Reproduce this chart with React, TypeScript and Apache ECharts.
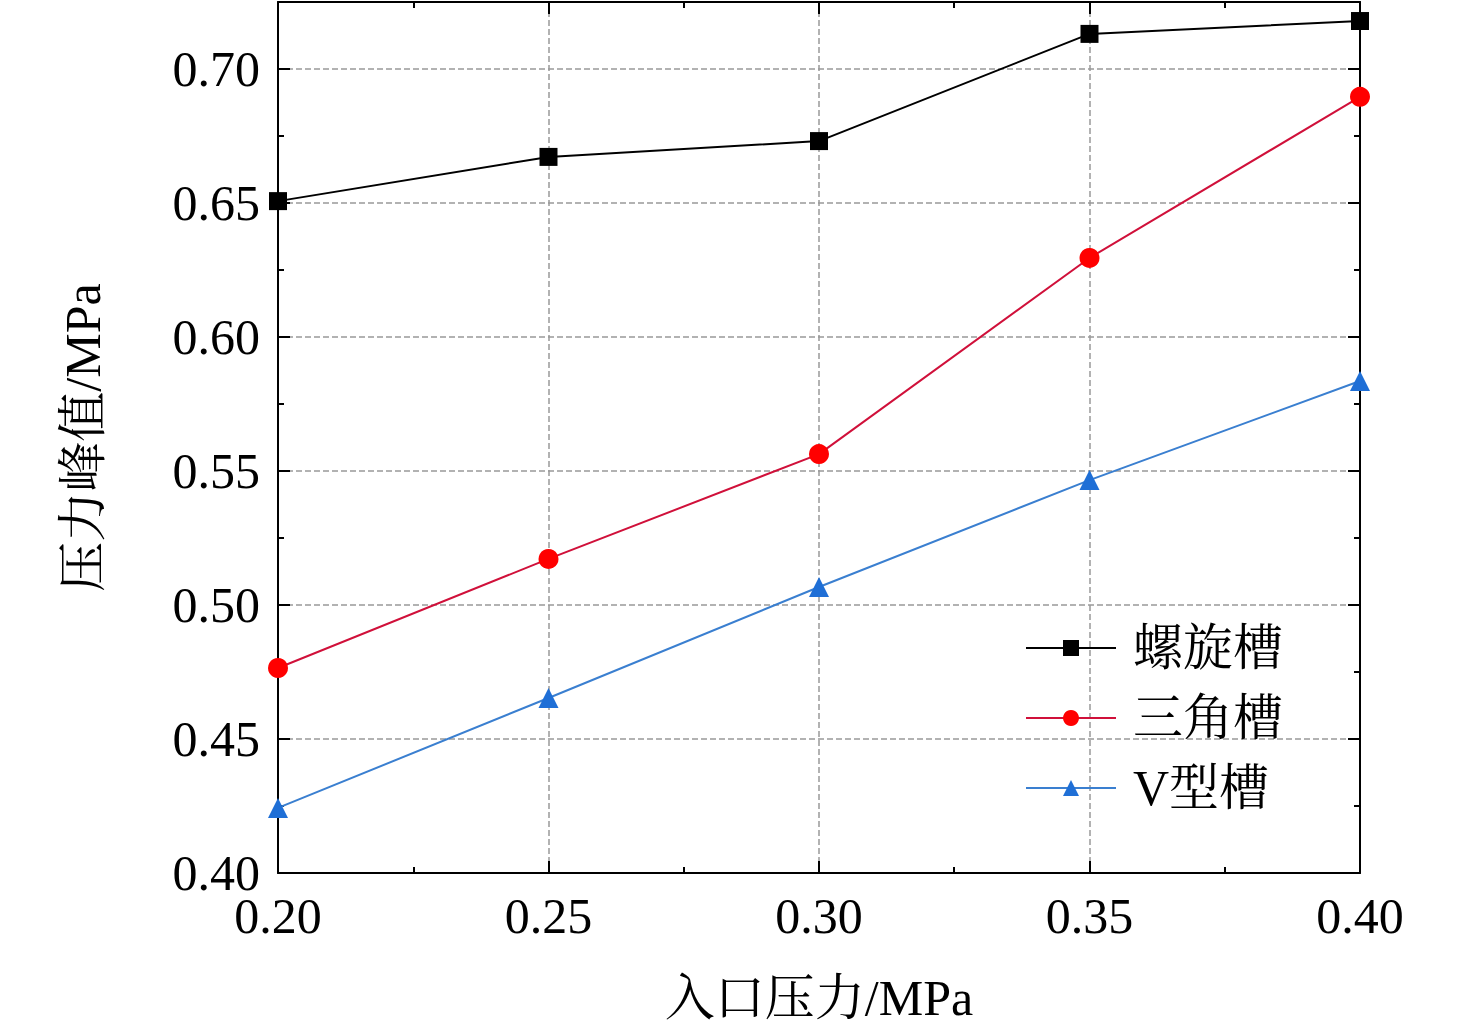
import React, { useEffect, useRef } from "react";
import * as echarts from "echarts";

const xCats = [0.2, 0.25, 0.3, 0.35, 0.4];
const spiral = [0.6507, 0.6672, 0.6731, 0.7131, 0.7179];
const triangle = [0.4765, 0.5172, 0.5563, 0.6295, 0.6896];
const vGroove = [0.4243, 0.4653, 0.5067, 0.5466, 0.5836];
const names = ["螺旋槽", "三角槽", "V型槽"];

const FONT = "'Liberation Serif','Times New Roman','Noto Serif CJK SC','Noto Sans CJK SC',serif";

export default function App() {
  const ref = useRef<HTMLDivElement>(null);
  useEffect(() => {
    const chart = echarts.init(ref.current!, null, { renderer: "svg" });
    const mk = (v: number[]) => v.map((y, i) => [xCats[i], y]);
    const axLine = { show: true, lineStyle: { color: "#000", width: 2 } };
    chart.setOption({
      animation: false,
      backgroundColor: "#fff",
      textStyle: { fontFamily: FONT },
      grid: { left: 278, right: 116, top: 2, bottom: 162 },
      legend: {
        orient: "vertical", left: 1020, top: 618, itemWidth: 90, itemHeight: 20, itemGap: 20,
        textStyle: { fontSize: 50, fontFamily: FONT, color: "#000", padding: [0, 0, 0, 12] },
        data: names,
      },
      xAxis: [
        {
          type: "value", min: 0.2, max: 0.4, interval: 0.05,
          axisLine: axLine,
          axisTick: { inside: true, length: 12, lineStyle: { width: 2 } },
          minorTick: { show: true, splitNumber: 2, length: 6, lineStyle: { color: "#000", width: 2 } },
          axisLabel: { fontSize: 50, color: "#000", margin: 18, formatter: (v: number) => v.toFixed(2) },
          splitLine: { show: true, lineStyle: { type: "dashed", color: "#999", width: 1.5 } },
          name: "入口压力/MPa", nameLocation: "middle", nameGap: 100,
          nameTextStyle: { fontSize: 50, color: "#000", fontFamily: FONT },
        },
        {
          type: "value", position: "top", min: 0.2, max: 0.4, interval: 0.05,
          axisLine: axLine, axisTick: { inside: true, length: 12, lineStyle: { width: 2 } },
          minorTick: { show: true, splitNumber: 2, length: 6, lineStyle: { color: "#000", width: 2 } },
          axisLabel: { show: false }, splitLine: { show: false },
        },
      ],
      yAxis: [
        {
          type: "value", min: 0.4, max: 0.725, interval: 0.05,
          axisLine: axLine,
          axisTick: { inside: true, length: 12, lineStyle: { width: 2 } },
          minorTick: { show: true, splitNumber: 2, length: 6, lineStyle: { color: "#000", width: 2 } },
          axisLabel: {
            fontSize: 50, color: "#000", margin: 18,
            formatter: (v: number) => (Math.abs(v * 100 - Math.round(v * 100)) < 1e-6 && Math.round(v * 100) % 5 === 0 ? v.toFixed(2) : ""),
          },
          splitLine: { show: true, lineStyle: { type: "dashed", color: "#999", width: 1.5 } },
          name: "压力峰值/MPa", nameLocation: "middle", nameGap: 170,
          nameTextStyle: { fontSize: 50, color: "#000", fontFamily: FONT },
        },
        {
          type: "value", position: "right", min: 0.4, max: 0.725, interval: 0.05,
          axisLine: axLine, axisTick: { inside: true, length: 12, lineStyle: { width: 2 } },
          minorTick: { show: true, splitNumber: 2, length: 6, lineStyle: { color: "#000", width: 2 } },
          axisLabel: { show: false }, splitLine: { show: false },
        },
      ],
      series: [
        { name: names[0], type: "line", data: mk(spiral), symbol: "rect", symbolSize: 18, color: "#000", lineStyle: { width: 2 } },
        { name: names[1], type: "line", data: mk(triangle), symbol: "circle", symbolSize: 20, color: "#f00", itemStyle: { color: "#f00" }, lineStyle: { width: 2, color: "#d0103a" } },
        { name: names[2], type: "line", data: mk(vGroove), symbol: "triangle", symbolSize: 20, color: "#1f6fd6", lineStyle: { width: 2, color: "#3a7fd0" } },
      ],
    });
    return () => chart.dispose();
  }, []);
  return <div ref={ref} style={{ position: "absolute", left: 0, top: 0, width: 1476, height: 1035 }} />;
}
